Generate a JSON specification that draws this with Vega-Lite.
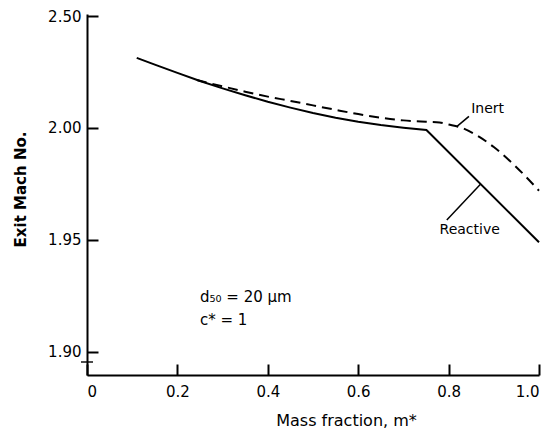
{
  "$schema": "https://vega.github.io/schema/vega-lite/v6.json",
  "width": 452,
  "height": 361,
  "autosize": "none",
  "padding": {"left": 87, "top": 14, "right": 17, "bottom": 53},
  "background": "white",
  "config": {"view": {"stroke": null}, "font": "DejaVu Sans"},
  "datasets": {
    "curves": [
      {"m": 0.11, "mach": 2.0313, "case": "Reactive"},
      {"m": 0.15, "mach": 2.0283, "case": "Reactive"},
      {"m": 0.2, "mach": 2.0246, "case": "Reactive"},
      {"m": 0.25, "mach": 2.021, "case": "Reactive"},
      {"m": 0.3, "mach": 2.0177, "case": "Reactive"},
      {"m": 0.35, "mach": 2.0146, "case": "Reactive"},
      {"m": 0.4, "mach": 2.0117, "case": "Reactive"},
      {"m": 0.45, "mach": 2.0091, "case": "Reactive"},
      {"m": 0.5, "mach": 2.0067, "case": "Reactive"},
      {"m": 0.55, "mach": 2.0046, "case": "Reactive"},
      {"m": 0.6, "mach": 2.0028, "case": "Reactive"},
      {"m": 0.65, "mach": 2.0013, "case": "Reactive"},
      {"m": 0.7, "mach": 2.0001, "case": "Reactive"},
      {"m": 0.751, "mach": 1.9991, "case": "Reactive"},
      {"m": 1.0, "mach": 1.949, "case": "Reactive"},
      {"m": 0.243, "mach": 2.0214, "case": "Inert"},
      {"m": 0.3, "mach": 2.0186, "case": "Inert"},
      {"m": 0.35, "mach": 2.0162, "case": "Inert"},
      {"m": 0.4, "mach": 2.014, "case": "Inert"},
      {"m": 0.45, "mach": 2.0121, "case": "Inert"},
      {"m": 0.5, "mach": 2.0101, "case": "Inert"},
      {"m": 0.55, "mach": 2.0081, "case": "Inert"},
      {"m": 0.6, "mach": 2.0062, "case": "Inert"},
      {"m": 0.65, "mach": 2.0046, "case": "Inert"},
      {"m": 0.7, "mach": 2.0034, "case": "Inert"},
      {"m": 0.75, "mach": 2.0028, "case": "Inert"},
      {"m": 0.78, "mach": 2.0025, "case": "Inert"},
      {"m": 0.8, "mach": 2.0016, "case": "Inert"},
      {"m": 0.83, "mach": 2.0, "case": "Inert"},
      {"m": 0.868, "mach": 1.996, "case": "Inert"},
      {"m": 0.9, "mach": 1.9915, "case": "Inert"},
      {"m": 0.95, "mach": 1.9825, "case": "Inert"},
      {"m": 1.0, "mach": 1.972, "case": "Inert"}
    ],
    "leaders": [
      {"m": 0.818, "mach": 2.0006, "case": "Inert"},
      {"m": 0.845, "mach": 2.0052, "case": "Inert"},
      {"m": 0.796, "mach": 1.9589, "case": "Reactive"},
      {"m": 0.871, "mach": 1.975, "case": "Reactive"}
    ],
    "labels": [
      {"m": 0.85, "mach": 2.0085, "text": "Inert", "size": 14},
      {"m": 0.78, "mach": 1.9545, "text": "Reactive", "size": 14},
      {"m": 0.25, "mach": 1.9246, "text": "d₅₀ = 20 μm", "size": 15},
      {"m": 0.25, "mach": 1.9143, "text": "c* = 1", "size": 15}
    ],
    "brk": [{"m": 0, "mach": 1.8955}]
  },
  "layer": [
    {
      "data": {"name": "curves"},
      "transform": [{"filter": "datum.case === 'Reactive'"}],
      "mark": {"type": "line", "color": "black", "strokeWidth": 2},
      "encoding": {
        "x": {
          "field": "m", "type": "quantitative",
          "scale": {"domain": [0, 1], "nice": false, "zero": false},
          "axis": {
            "values": [0, 0.2, 0.4, 0.6, 0.8, 1.0],
            "labelExpr": "datum.value == 0 ? '0' : format(datum.value, '.1f')",
            "grid": false,
            "domainColor": "black", "domainWidth": 2,
            "tickColor": "black", "tickWidth": 2, "tickSize": -11,
            "labelPadding": 20, "labelFontSize": 15, "labelColor": "black",
            "labelFont": "DejaVu Sans",
            "title": "Mass fraction,  m*",
            "titleFontSize": 16, "titleFontWeight": "normal", "titleColor": "black",
            "titleX": 259, "titleY": 45, "titleBaseline": "middle", "titleAlign": "center"
          }
        },
        "y": {
          "field": "mach", "type": "quantitative",
          "scale": {"domain": [1.8897, 2.0509], "nice": false, "zero": false},
          "axis": {
            "values": [1.9, 1.95, 2.0, 2.05],
            "labelExpr": "datum.value > 2.04 ? '2.50' : format(datum.value, '.2f')",
            "grid": false,
            "domainColor": "black", "domainWidth": 2,
            "tickColor": "black", "tickWidth": 2, "tickSize": -11,
            "labelPadding": 17, "labelFontSize": 15, "labelColor": "black",
            "title": "Exit Mach No.",
            "titleFontSize": 15, "titleFontWeight": "bold", "titleColor": "black",
            "titleX": -67, "titleY": 175, "titleAngle": -90, "titleAlign": "center", "titleBaseline": "middle"
          }
        }
      }
    },
    {
      "data": {"name": "curves"},
      "transform": [{"filter": "datum.case === 'Inert'"}],
      "mark": {"type": "line", "color": "black", "strokeWidth": 2, "strokeDash": [10, 6], "interpolate": "monotone"},
      "encoding": {
        "x": {"field": "m", "type": "quantitative"},
        "y": {"field": "mach", "type": "quantitative"}
      }
    },
    {
      "data": {"name": "leaders"},
      "mark": {"type": "line", "color": "black", "strokeWidth": 1.5},
      "encoding": {
        "x": {"field": "m", "type": "quantitative"},
        "y": {"field": "mach", "type": "quantitative"},
        "detail": {"field": "case"}
      }
    },
    {
      "data": {"name": "labels"},
      "mark": {"type": "text", "align": "left", "baseline": "middle", "color": "black", "font": "DejaVu Sans"},
      "encoding": {
        "x": {"field": "m", "type": "quantitative"},
        "y": {"field": "mach", "type": "quantitative"},
        "text": {"field": "text"},
        "size": {"field": "size", "type": "quantitative", "scale": null}
      }
    },
    {
      "data": {"name": "brk"},
      "mark": {"type": "tick", "orient": "horizontal", "color": "black", "size": 12, "thickness": 2},
      "encoding": {
        "x": {"field": "m", "type": "quantitative"},
        "y": {"field": "mach", "type": "quantitative"}
      }
    }
  ]
}
